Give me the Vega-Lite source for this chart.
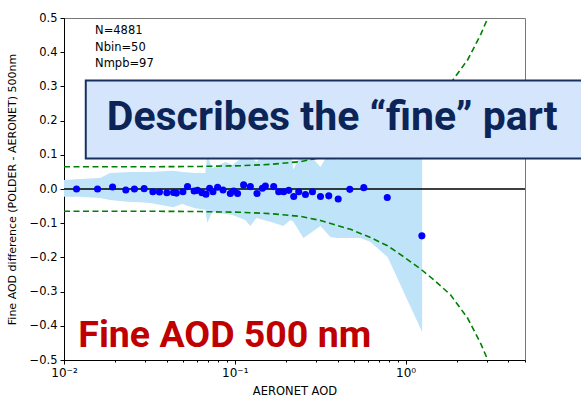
{
  "$schema": "https://vega.github.io/schema/vega-lite/v6.json",
  "width": 461,
  "height": 342,
  "autosize": "none",
  "padding": {"left": 64, "top": 18, "right": 56, "bottom": 42},
  "background": "white",
  "title": {"text": "AERONET AOD", "frame": "group", "anchor": "middle", "offset": 16, "fontSize": 11.5, "font": "DejaVu Sans", "fontWeight": "normal", "baseline": "alphabetic", "color": "black"},
  "config": {
    "view": {"stroke": "#777777", "strokeWidth": 1},
    "axis": {"domainColor": "black", "tickColor": "black", "labelColor": "black", "titleColor": "black", "labelFont": "DejaVu Sans", "titleFont": "DejaVu Sans", "titleFontWeight": "normal", "grid": false, "domainWidth": 1, "tickWidth": 1, "labelOverlap": false, "labelBound": false}
  },
  "resolve": {"axis": {"x": "independent", "y": "independent"}},
  "layer": [
    {
      "data": {"values": [
        {"aod": 0.0100, "lo": -0.023, "hi": 0.026},
        {"aod": 0.01241, "lo": -0.023, "hi": 0.029},
        {"aod": 0.01626, "lo": -0.026, "hi": 0.032},
        {"aod": 0.01861, "lo": -0.032, "hi": 0.047},
        {"aod": 0.02438, "lo": -0.038, "hi": 0.050},
        {"aod": 0.02791, "lo": -0.039, "hi": 0.050},
        {"aod": 0.03194, "lo": -0.041, "hi": 0.050},
        {"aod": 0.04358, "lo": -0.053, "hi": 0.053},
        {"aod": 0.04922, "lo": -0.044, "hi": 0.050},
        {"aod": 0.05866, "lo": -0.056, "hi": 0.047},
        {"aod": 0.06714, "lo": -0.061, "hi": 0.047},
        {"aod": 0.06898, "lo": -0.099, "hi": 0.099},
        {"aod": 0.07379, "lo": -0.067, "hi": 0.061},
        {"aod": 0.08797, "lo": -0.073, "hi": 0.079},
        {"aod": 0.09667, "lo": -0.076, "hi": 0.070},
        {"aod": 0.1152, "lo": -0.091, "hi": 0.099},
        {"aod": 0.1233, "lo": -0.108, "hi": 0.094},
        {"aod": 0.1337, "lo": -0.085, "hi": 0.079},
        {"aod": 0.1615, "lo": -0.096, "hi": 0.114},
        {"aod": 0.1925, "lo": -0.108, "hi": 0.129},
        {"aod": 0.2117, "lo": -0.091, "hi": 0.114},
        {"aod": 0.2203, "lo": -0.096, "hi": 0.056},
        {"aod": 0.2522, "lo": -0.143, "hi": 0.120},
        {"aod": 0.3173, "lo": -0.108, "hi": 0.064},
        {"aod": 0.3632, "lo": -0.140, "hi": 0.114},
        {"aod": 0.3993, "lo": -0.143, "hi": 0.085},
        {"aod": 0.5446, "lo": -0.143, "hi": 0.129},
        {"aod": 0.6232, "lo": -0.155, "hi": 0.143},
        {"aod": 0.7842, "lo": -0.199, "hi": 0.173},
        {"aod": 1.25, "lo": -0.418, "hi": 0.231}
      ]},
      "mark": {"type": "area", "color": "#bfe3f8", "opacity": 1},
      "encoding": {
        "x": {"field": "aod", "type": "quantitative",
          "scale": {"type": "log", "domain": [0.01, 5], "nice": false},
          "axis": {"orient": "bottom", "values": [0.01, 0.1, 1], "labelExpr": "datum.value < 0.05 ? '10⁻²' : datum.value < 0.5 ? '10⁻¹' : '10⁰'", "tickSize": 4, "labelFontSize": 12, "labelPadding": 3, "labelOverlap": false, "title": "AERONET AOD", "titleFontSize": 11.5, "titlePadding": 7, "labelFlush": false}},
        "y": {"field": "lo", "type": "quantitative",
          "scale": {"domain": [-0.5, 0.5], "nice": false, "zero": false},
          "axis": null},
        "y2": {"field": "hi"}
      }
    },
    {
      "data": {"values": [{"zero": 0}]},
      "mark": {"type": "rule", "color": "black", "strokeWidth": 1.5},
      "encoding": {"y": {"field": "zero", "type": "quantitative", "axis": null}}
    },
    {
      "data": {"values": [
        {"aod": 0.01, "up": 0.065, "lo": -0.065},
        {"aod": 0.03194, "up": 0.065, "lo": -0.065},
        {"aod": 0.06277, "up": 0.066, "lo": -0.066},
        {"aod": 0.1077, "up": 0.068, "lo": -0.068},
        {"aod": 0.1615, "up": 0.072, "lo": -0.072},
        {"aod": 0.2422, "up": 0.080, "lo": -0.080},
        {"aod": 0.3173, "up": 0.092, "lo": -0.092},
        {"aod": 0.4759, "up": 0.118, "lo": -0.118},
        {"aod": 0.6232, "up": 0.142, "lo": -0.142},
        {"aod": 0.7842, "up": 0.166, "lo": -0.166},
        {"aod": 0.9734, "up": 0.198, "lo": -0.198},
        {"aod": 1.2246, "up": 0.234, "lo": -0.234},
        {"aod": 1.459, "up": 0.265, "lo": -0.265},
        {"aod": 1.836, "up": 0.310, "lo": -0.310},
        {"aod": 2.31, "up": 0.378, "lo": -0.378},
        {"aod": 2.754, "up": 0.452, "lo": -0.452},
        {"aod": 3.027, "up": 0.500, "lo": -0.500},
        {"aod": 3.373, "up": 0.560, "lo": -0.560}
      ]},
      "layer": [
        {
          "mark": {"type": "line", "color": "#008000", "strokeWidth": 1.6, "strokeDash": [6, 3.5], "clip": true},
          "encoding": {"x": {"field": "aod", "type": "quantitative", "axis": null}, "y": {"field": "up", "type": "quantitative", "axis": null}}
        },
        {
          "mark": {"type": "line", "color": "#008000", "strokeWidth": 1.6, "strokeDash": [6, 3.5], "clip": true},
          "encoding": {"x": {"field": "aod", "type": "quantitative", "axis": null}, "y": {"field": "lo", "type": "quantitative", "axis": null}}
        }
      ]
    },
    {
      "data": {"values": [
        {"aod": 0.01184, "d": 0.000}, {"aod": 0.01572, "d": 0.000}, {"aod": 0.01925, "d": 0.006},
        {"aod": 0.02301, "d": -0.003}, {"aod": 0.02584, "d": 0.000}, {"aod": 0.02946, "d": 0.001},
        {"aod": 0.03313, "d": -0.008}, {"aod": 0.03622, "d": -0.009}, {"aod": 0.04002, "d": -0.011},
        {"aod": 0.04376, "d": -0.010}, {"aod": 0.0455, "d": -0.012}, {"aod": 0.04968, "d": -0.008},
        {"aod": 0.05286, "d": 0.007}, {"aod": 0.0578, "d": -0.006}, {"aod": 0.0605, "d": -0.004},
        {"aod": 0.0642, "d": -0.011}, {"aod": 0.0678, "d": -0.015}, {"aod": 0.0712, "d": 0.002},
        {"aod": 0.0745, "d": -0.008}, {"aod": 0.0793, "d": 0.005}, {"aod": 0.0853, "d": -0.003},
        {"aod": 0.0941, "d": -0.013}, {"aod": 0.0985, "d": -0.006}, {"aod": 0.1038, "d": -0.013},
        {"aod": 0.1126, "d": 0.012}, {"aod": 0.1233, "d": 0.007}, {"aod": 0.1349, "d": -0.013},
        {"aod": 0.145, "d": 0.002}, {"aod": 0.151, "d": 0.009}, {"aod": 0.1689, "d": 0.007},
        {"aod": 0.1807, "d": -0.008}, {"aod": 0.1932, "d": -0.008}, {"aod": 0.207, "d": -0.004},
        {"aod": 0.2213, "d": -0.022}, {"aod": 0.2367, "d": -0.008}, {"aod": 0.2592, "d": -0.016},
        {"aod": 0.2849, "d": -0.008}, {"aod": 0.3174, "d": -0.022}, {"aod": 0.3549, "d": -0.020},
        {"aod": 0.403, "d": -0.029}, {"aod": 0.4712, "d": -0.001}, {"aod": 0.5691, "d": 0.004},
        {"aod": 0.7809, "d": -0.025}, {"aod": 1.245, "d": -0.137}
      ]},
      "mark": {"type": "circle", "color": "#0000ff", "opacity": 1, "size": 50},
      "encoding": {
        "x": {"field": "aod", "type": "quantitative",
          "axis": {"orient": "bottom", "values": [0.02, 0.03, 0.04, 0.05, 0.06, 0.07, 0.08, 0.09, 0.2, 0.3, 0.4, 0.5, 0.6, 0.7, 0.8, 0.9, 2, 3, 4, 5], "labels": false, "domain": false, "tickSize": 2, "title": null}},
        "y": {"field": "d", "type": "quantitative",
          "axis": {"orient": "left", "values": [-0.5, -0.4, -0.3, -0.2, -0.1, 0, 0.1, 0.2, 0.3, 0.4, 0.5], "format": ".1f", "tickSize": 4, "labelFontSize": 11.5, "labelPadding": 3, "labelOverlap": false, "labelFlush": false, "title": "Fine AOD difference (POLDER - AERONET) 500nm", "titleFontSize": 11, "titlePadding": 12}}
      }
    },
    {
      "data": {"values": [{"x1": 0.01341, "x2": 14, "y1": 0.3173, "y2": 0.0892}]},
      "mark": {"type": "rect", "fill": "#d5e5fb", "stroke": "#17305f", "strokeWidth": 2},
      "encoding": {
        "x": {"field": "x1", "type": "quantitative", "axis": null}, "x2": {"field": "x2"},
        "y": {"field": "y1", "type": "quantitative", "axis": null}, "y2": {"field": "y2"}
      }
    },
    {
      "data": {"values": [
        {"x": 0.0178, "y": 0.1725, "t": "Describes the “fine” part"}
      ]},
      "mark": {"type": "text", "align": "left", "baseline": "alphabetic", "font": "Roboto", "fontWeight": "bold", "fontSize": 41, "color": "#0b2559"},
      "encoding": {
        "x": {"field": "x", "type": "quantitative", "axis": null},
        "y": {"field": "y", "type": "quantitative", "axis": null},
        "text": {"field": "t"}
      }
    },
    {
      "data": {"values": [
        {"x": 0.01213, "y": -0.4611, "t": "Fine AOD 500 nm"}
      ]},
      "mark": {"type": "text", "align": "left", "baseline": "alphabetic", "font": "Roboto", "fontWeight": "bold", "fontSize": 37.5, "color": "#c00000"},
      "encoding": {
        "x": {"field": "x", "type": "quantitative", "axis": null},
        "y": {"field": "y", "type": "quantitative", "axis": null},
        "text": {"field": "t"}
      }
    },
    {
      "data": {"values": [
        {"x": 0.0152, "y": 0.4523, "t": "N=4881"},
        {"x": 0.0152, "y": 0.4044, "t": "Nbin=50"},
        {"x": 0.0152, "y": 0.3553, "t": "Nmpb=97"}
      ]},
      "mark": {"type": "text", "align": "left", "baseline": "alphabetic", "font": "DejaVu Sans", "fontSize": 11.5, "color": "black"},
      "encoding": {
        "x": {"field": "x", "type": "quantitative", "axis": null},
        "y": {"field": "y", "type": "quantitative", "axis": null},
        "text": {"field": "t"}
      }
    }
  ]
}
